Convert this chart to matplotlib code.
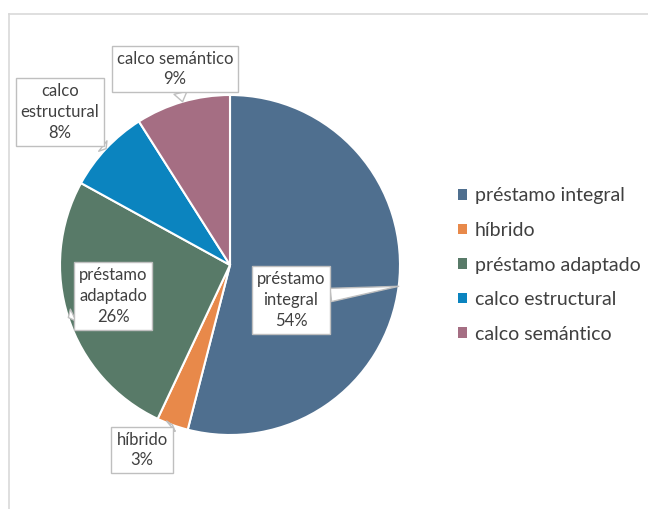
import numpy as np
from matplotlib import pyplot as plt
from matplotlib.patches import Patch
from matplotlib.lines import Line2D

categories = ["préstamo integral", "híbrido", "préstamo adaptado", "calco estructural", "calco semántico"]
values = [54, 3, 26, 8, 9]
colors = ["#4F6F8F", "#E8894A", "#587A68", "#0B84BF", "#A56E83"]
box_texts = ["préstamo\nintegral\n54%", "híbrido\n3%", "préstamo\nadaptado\n26%",
             "calco\nestructural\n8%", "calco semántico\n9%"]
# label box centres, image pixels (x, y from top)
box_pos = [(291, 300), (142, 450), (113, 296), (60, 112), (175, 69)]

W, H = 648, 509
plt.rcParams['font.family'] = ['Lato', 'DejaVu Sans']
fig = plt.figure(figsize=(W / 100, H / 100), dpi=100)

# chart frame
fig.add_artist(Line2D([9 / W, 1], [1 - 14 / H, 1 - 14 / H], color="#D9D9D9", lw=1.2))
fig.add_artist(Line2D([9 / W, 9 / W], [0, 1 - 14 / H], color="#D9D9D9", lw=1.2))

cx, cy, r = 230, 265, 170
ax = fig.add_axes([(cx - r) / W, (H - cy - r) / H, 2 * r / W, 2 * r / H])
wedges, _ = ax.pie(values, colors=colors, startangle=90, counterclock=False, radius=1,
                   wedgeprops=dict(edgecolor="white", linewidth=1.5))
ax.set_xlim(-1, 1)
ax.set_ylim(-1, 1)
ax.set_aspect('auto')
ax.axis('off')

for w, txt, (bx, by) in zip(wedges, box_texts, box_pos):
    ang = np.deg2rad((w.theta1 + w.theta2) / 2)
    px, py = np.cos(ang), np.sin(ang)
    ax.annotate(txt, xy=(px, py), xycoords='data', xytext=(bx, H - by), textcoords='figure pixels',
                ha='center', va='center', fontsize=12, color="#404040", linespacing=1.35,
                bbox=dict(boxstyle="square,pad=0.3", fc="white", ec="#BFBFBF", lw=1),
                arrowprops=dict(arrowstyle="wedge,tail_width=0.8,shrink_factor=0.5", fc="white",
                                ec="#BFBFBF", lw=1, shrinkA=0, shrinkB=0),
                annotation_clip=False)

handles = [Patch(facecolor=c, edgecolor='none') for c in colors]
fig.legend(handles, categories, loc='center left', bbox_to_anchor=(458 / W, 1 - 265 / H),
           frameon=False, fontsize=14, labelcolor="#404040", handlelength=0.45, handleheight=0.45,
           handletextpad=0.4, labelspacing=0.9, borderpad=0, borderaxespad=0)

fig.savefig("out.png", dpi=100)
